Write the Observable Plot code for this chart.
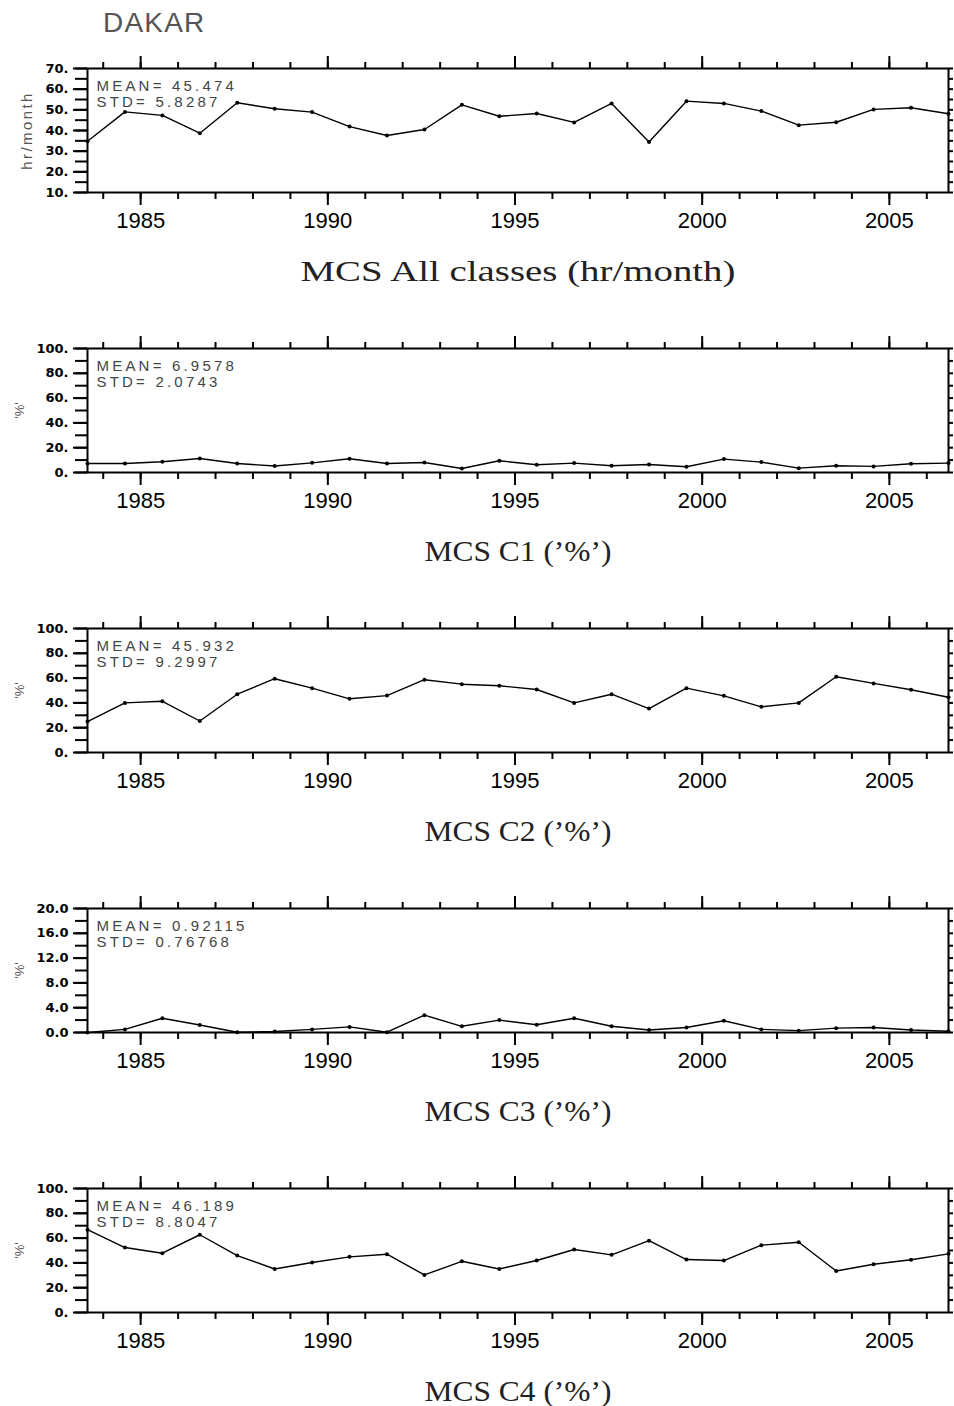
<!DOCTYPE html>
<html><head><meta charset="utf-8">
<script src="https://cdn.jsdelivr.net/npm/d3@7"></script>
<script src="https://cdn.jsdelivr.net/npm/@observablehq/plot@0.6"></script>
<style>
body{margin:0;background:#fff;}
#root{position:relative;width:954px;height:1406px;overflow:hidden;background:#fff;}
.panel{position:absolute;left:0;}
#station{position:absolute;left:103px;top:9px;font:28px "Liberation Sans",Arial,sans-serif;line-height:28px;color:#555;letter-spacing:1.2px;}
</style></head><body>
<div id="root"><div id="station">DAKAR</div></div>
<script>
// ---- data ----
const years = [1983,1984,1985,1986,1987,1988,1989,1990,1991,1992,1993,1994,1995,1996,1997,1998,1999,2000,2001,2002,2003,2004,2005,2006];
const allClasses = [34.8,49.0,47.3,38.7,53.4,50.5,48.9,41.9,37.6,40.5,52.4,46.9,48.2,43.9,53.1,34.4,54.2,53.1,49.4,42.6,44.0,50.2,51.0,48.1];
const c1 = [7.3,7.3,8.7,11.3,7.3,5.2,7.8,11.1,7.3,8.1,3.2,9.5,6.2,7.6,5.4,6.5,4.6,10.8,8.4,3.5,5.4,4.9,7.0,7.6];
const c2 = [24.9,40.0,41.3,25.4,47.0,59.5,51.9,43.3,45.9,58.7,55.1,53.8,50.8,40.0,47.0,35.4,51.9,45.7,36.8,40.0,61.1,55.7,50.6,44.6];
const c3 = [0.0,0.5,2.3,1.2,0.05,0.15,0.5,0.9,0.05,2.8,1.0,2.0,1.25,2.3,1.0,0.4,0.8,1.9,0.5,0.3,0.7,0.8,0.4,0.2];
const c4 = [66.8,52.4,47.8,62.7,45.9,35.1,40.3,44.9,47.0,30.3,41.3,35.1,41.9,50.8,46.5,57.9,42.7,41.9,54.3,56.7,33.5,38.9,42.5,47.3];

const titles = ["MCS All classes (hr/month)", "MCS C1 (\u2019%\u2019)", "MCS C2 (\u2019%\u2019)", "MCS C3 (\u2019%\u2019)", "MCS C4 (\u2019%\u2019)"];
const yLabels = ["hr/month", "'%'", "'%'", "'%'", "'%'"];
const means = ["45.474", "6.9578", "45.932", "0.92115", "46.189"];
const stds = ["5.8287", "2.0743", "9.2997", "0.76768", "8.8047"];

const majorYears = [1985,1990,1995,2000,2005];
const minorYears = [1984,1985,1986,1987,1988,1989,1990,1991,1992,1993,1994,1995,1996,1997,1998,1999,2000,2001,2002,2003,2004,2005,2006];

const yMajor_hr = [10,20,30,40,50,60,70];
const yLab_hr = ["10.","20.","30.","40.","50.","60.","70."];
const yMinor_hr = [10,15,20,25,30,35,40,45,50,55,60,65,70];
const yMajor_pct = [0,20,40,60,80,100];
const yLab_pct = ["0.","20.","40.","60.","80.","100."];
const yMinor_pct = [0,10,20,30,40,50,60,70,80,90,100];
const yMajor_c3 = [0,4,8,12,16,20];
const yLab_c3 = ["0.0","4.0","8.0","12.0","16.0","20.0"];
const yMinor_c3 = [0,2,4,6,8,10,12,14,16,18,20];

const series = [allClasses, c1, c2, c3, c4];
const domains = [[10,70],[0,100],[0,100],[0,20],[0,100]];
const majors = [yMajor_hr, yMajor_pct, yMajor_pct, yMajor_c3, yMajor_pct];
const majorLabels = [yLab_hr, yLab_pct, yLab_pct, yLab_c3, yLab_pct];
const minors = [yMinor_hr, yMinor_pct, yMinor_pct, yMinor_c3, yMinor_pct];

// ---- layout ----
const root = document.getElementById("root");
const frameTop0 = 68, panelStep = 280, frameH = 124, mTop = 20, mBottom = 100;
const titleWidths = [435, 187, 187, 187, 187];
const yLabelDx = [-60, -68, -68, -68, -68];
const phase = 0.58; // samples sit at this fraction of each year

series.forEach((vals, i) => {
  const data = years.map((yr, k) => ({x: yr + phase, y: vals[k]}));
  const labMap = new Map(majors[i].map((v, k) => [v, majorLabels[i][k]]));
  const statFont = {frameAnchor: "top-left", dx: 9, textAnchor: "start", lineAnchor: "top",
    fontSize: 15, fill: "#444", fontFamily: "Liberation Sans, Arial, sans-serif"};
  const plot = Plot.plot({
    width: 954,
    height: mTop + frameH + mBottom,
    marginLeft: 87, marginRight: 6, marginTop: mTop, marginBottom: mBottom,
    x: {domain: [years[0] + phase, years[years.length - 1] + phase]},
    y: {domain: domains[i]},
    style: {background: "transparent", overflow: "visible", fontFamily: "Liberation Sans, Arial, sans-serif", color: "black"},
    marks: [
      Plot.axisX({anchor: "top", ticks: minorYears, tickSize: 7, tickFormat: () => "", strokeWidth: 2, label: null}),
      Plot.axisX({anchor: "top", ticks: majorYears, tickSize: 13, tickFormat: () => "", strokeWidth: 2, label: null}),
      Plot.axisX({anchor: "bottom", ticks: minorYears, tickSize: 7, tickFormat: () => "", strokeWidth: 2, label: null}),
      Plot.axisX({anchor: "bottom", ticks: majorYears, tickSize: 13, tickPadding: 7, tickFormat: d => String(d),
        fontSize: 22, fontFamily: "Liberation Sans, Arial, sans-serif", strokeWidth: 2, label: null}),
      Plot.axisY({anchor: "left", ticks: minors[i], tickSize: 12, tickFormat: () => "", strokeWidth: 2, label: null}),
      Plot.axisY({anchor: "left", ticks: majors[i], tickSize: 14, tickPadding: 5, tickFormat: d => labMap.get(d),
        fontSize: 13, fontWeight: "bold", fontFamily: "DejaVu Sans, sans-serif", strokeWidth: 2, label: null}),
      Plot.axisY({anchor: "right", ticks: minors[i], tickSize: 4, tickFormat: () => "", strokeWidth: 2, label: null}),
      Plot.frame({stroke: "black", strokeWidth: 2}),
      Plot.line(data, {x: "x", y: "y", stroke: "black", strokeWidth: 1.4}),
      Plot.dot(data, {x: "x", y: "y", r: 2, fill: "black", stroke: null}),
      Plot.text([`MEAN= ${means[i]}`], {...statFont, text: d => d, dy: 12}),
      Plot.text([`STD= ${stds[i]}`], {...statFont, text: d => d, dy: 28}),
      Plot.text([yLabels[i]], {text: d => d, frameAnchor: "left", dx: yLabelDx[i], rotate: -90, textAnchor: "middle",
        fontSize: i === 0 ? 15 : 13, fill: "#555", fontFamily: "Liberation Sans, Arial, sans-serif"}),
      Plot.text([titles[i]], {text: d => d, frameAnchor: "bottom", dy: 67, lineAnchor: "top", textAnchor: "middle",
        fontSize: 30, fill: "#222", fontFamily: "Liberation Serif, Times New Roman, serif"})
    ]
  });
  plot.classList.add("panel");
  plot.style.top = (frameTop0 + panelStep * i - mTop) + "px";
  root.appendChild(plot);
  plot.querySelectorAll("text").forEach(t => {
    const s = t.textContent;
    if (s === titles[i]) {
      t.setAttribute("textLength", titleWidths[i]);
      t.setAttribute("lengthAdjust", "spacingAndGlyphs");
    } else if (s.startsWith("MEAN") || s.startsWith("STD")) {
      t.style.letterSpacing = "3.2px";
    } else if (s === yLabels[i] && i === 0) {
      t.style.letterSpacing = "2.4px";
    }
  });
});
</script>
</body></html>
